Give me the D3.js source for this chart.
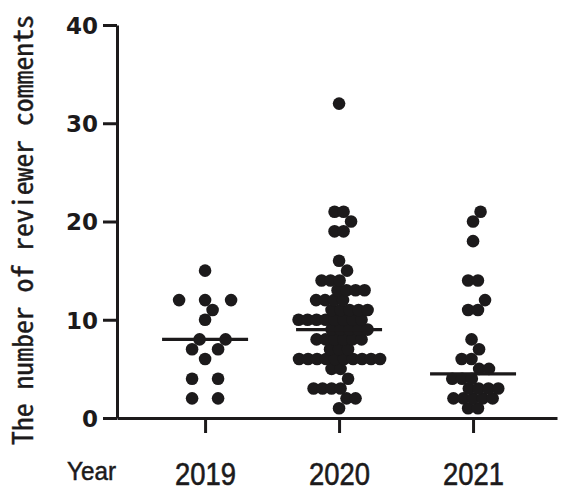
<!DOCTYPE html>
<html>
<head>
<meta charset="utf-8">
<script src="https://cdn.jsdelivr.net/npm/d3@7"></script>
<style>
  html, body { margin: 0; padding: 0; background: #fff; }
  svg { display: block; }
</style>
</head>
<body>
<svg id="chart" width="561" height="491"></svg>
<script>
// ---- data ----
const years = ["2019", "2020", "2021"];
const values2019 = [15, 12, 12, 12, 11, 10, 8, 8, 7, 7, 6, 4, 4, 2, 2];
const values2020 = [32, 21, 21, 20, 19, 19, 16, 15, 14, 14, 14, 13, 13, 13, 13,
  12, 12, 12, 12, 11, 11, 11, 11, 11, 10, 10, 10, 10, 10, 10, 10, 10,
  9, 9, 9, 9, 9, 8, 8, 8, 8, 8, 8, 7, 7, 7,
  6, 6, 6, 6, 6, 6, 6, 6, 6, 6, 5, 5, 4, 3, 3, 3, 3, 2, 2, 1];
const values2021 = [21, 20, 18, 14, 14, 12, 11, 11, 8, 7, 6, 6, 5, 5, 4, 4, 4,
  3, 3, 3, 3, 2, 2, 2, 2, 2, 1, 1];
const yTicks = [0, 10, 20, 30, 40];
const yTitle = "The number of reviewer comments";
const xTitle = "Year";

const groups = [
  { year: years[0], values: values2019 },
  { year: years[1], values: values2020 },
  { year: years[2], values: values2021 }
];

// ---- layout / style ----
const rowGap = { "2019": 26, "2020": 9, "2021": 9.8 };
const R = 6.3;
const ink = "#1c1a1b";

const svg = d3.select("#chart");
svg.append("rect").attr("width", 561).attr("height", 491).attr("fill", "#fff");

const y = d3.scaleLinear().domain([0, 40]).range([418, 25]);
const x = d3.scalePoint().domain(years).range([117, 557]).padding(0.642).align(0.512);

// y axis
const gy = svg.append("g").attr("transform", "translate(117,0)")
  .call(d3.axisLeft(y).tickValues(yTicks).tickSize(14).tickSizeOuter(0).tickPadding(5));
gy.select(".domain").attr("stroke", ink).attr("stroke-width", 3);
gy.selectAll(".tick line").attr("stroke", ink).attr("stroke-width", 3);
gy.selectAll(".tick text")
  .attr("fill", ink)
  .attr("font-family", "DejaVu Sans, sans-serif")
  .attr("font-weight", "bold")
  .attr("font-size", 23)
  .attr("dy", "0.36em");

// x axis
const gx = svg.append("g").attr("transform", "translate(0,418)")
  .call(d3.axisBottom(x).tickSize(15).tickSizeOuter(0));
gx.select(".domain").attr("stroke", ink).attr("stroke-width", 3);
gx.selectAll(".tick line").attr("stroke", ink).attr("stroke-width", 3);
gx.selectAll(".tick text")
  .attr("fill", ink)
  .attr("stroke", ink)
  .attr("stroke-width", 0.6)
  .attr("font-family", "Liberation Sans, Arial, sans-serif")
  .attr("font-size", 32)
  .attr("y", 67)
  .attr("dy", null)
  .attr("textLength", 61)
  .attr("lengthAdjust", "spacingAndGlyphs");

// titles
const yt = svg.append("text")
  .attr("transform", "translate(33,230) rotate(-90)")
  .attr("text-anchor", "middle")
  .attr("font-family", "Noto Sans Mono CJK JP, DejaVu Sans Mono, monospace")
  .attr("font-size", 27)
  .attr("fill", ink)
  .attr("stroke", ink)
  .attr("stroke-width", 0.4)
  .text(yTitle);
const natural = yt.node().getComputedTextLength();
yt.attr("font-size", Math.min(28, 27 * 430 / natural));

svg.append("text")
  .attr("x", 67).attr("y", 480)
  .attr("font-family", "Liberation Sans, Arial, sans-serif")
  .attr("font-size", 25)
  .attr("fill", ink)
  .attr("stroke", ink)
  .attr("stroke-width", 0.5)
  .attr("textLength", 49)
  .attr("lengthAdjust", "spacingAndGlyphs")
  .text(xTitle);

// beeswarm-like layout: same values in a row, rows shifted to avoid collisions
function layout(vals, cx, gap) {
  const rows = d3.groups(vals, v => v).sort((a, b) => a[0] - b[0]);
  const placed = [];
  const D = 2 * R;
  const shifts = [0];
  for (let s = 0.5; s <= 12; s += 0.5) { shifts.push(s, -s); }
  for (const [v, arr] of rows) {
    const n = arr.length, yy = y(v);
    let best = null, bestCost = Infinity;
    for (const s of shifts) {
      let cost = Math.abs(s) * 0.3;
      const xs = arr.map((_, i) => cx + s + (i - (n - 1) / 2) * gap);
      for (const px of xs) {
        for (const q of placed) {
          const dy = yy - q.y;
          if (Math.abs(dy) >= D) continue;
          const d = Math.hypot(px - q.x, dy);
          if (d < D) cost += (D - d) * (D - d);
        }
      }
      if (cost < bestCost - 1e-9) { bestCost = cost; best = xs; }
    }
    best.forEach(px => placed.push({ x: px, y: yy, v }));
  }
  return placed;
}

groups.forEach(g => {
  const cx = x(g.year);
  const pts = layout(g.values, cx, rowGap[g.year]);
  svg.append("g").selectAll("circle").data(pts).join("circle")
    .attr("cx", d => d.x).attr("cy", d => d.y).attr("r", R).attr("fill", ink);
  const med = d3.median(g.values);
  svg.append("line")
    .attr("x1", cx - 43).attr("x2", cx + 43)
    .attr("y1", y(med)).attr("y2", y(med))
    .attr("stroke", ink).attr("stroke-width", 3.2);
});
</script>
</body>
</html>
